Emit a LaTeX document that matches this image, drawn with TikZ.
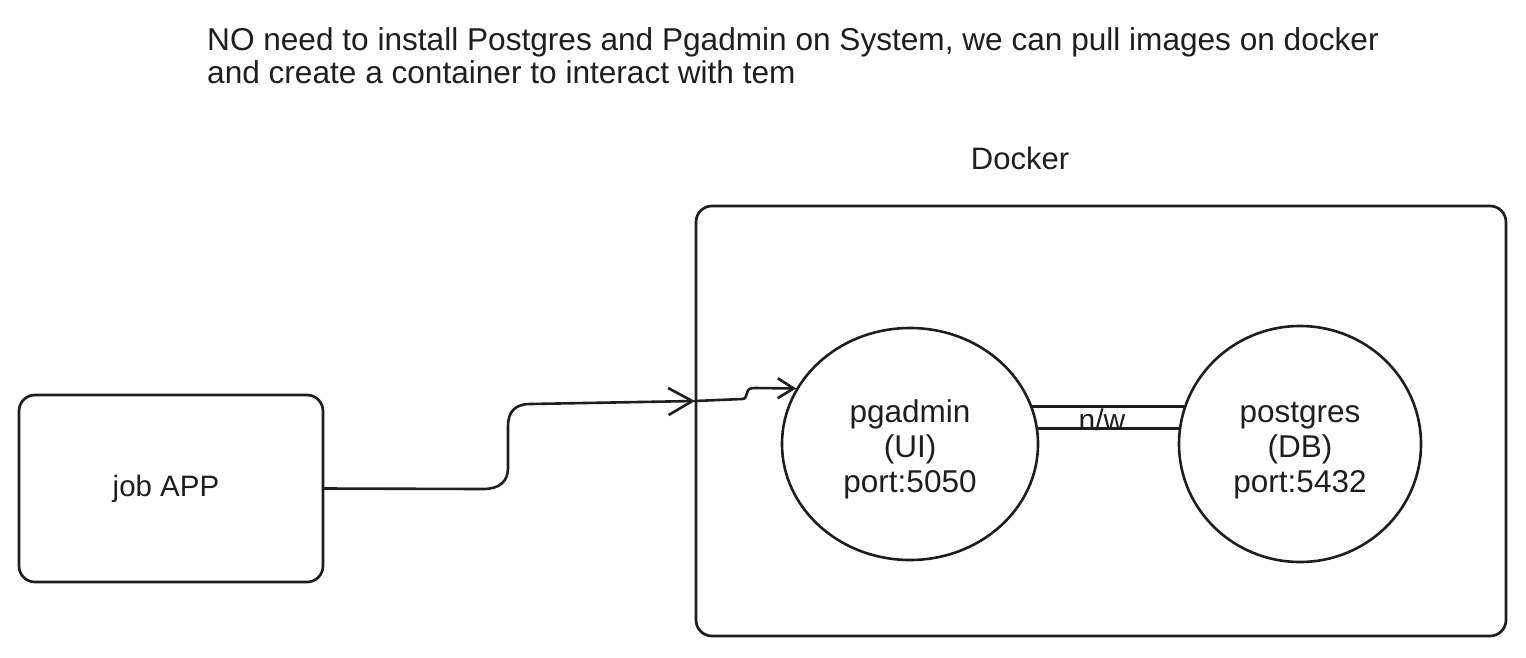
\documentclass[tikz,border=0pt]{standalone}
\usepackage{fontspec}
\setmainfont{Liberation Sans}
\usetikzlibrary{arrows.meta,shapes.geometric,calc}
\definecolor{ink}{HTML}{1E1E1E}
\begin{document}
\begin{tikzpicture}[x=1pt,y=-1pt, line join=round, line cap=round,
  box/.style={draw=ink, line width=2.7pt, rounded corners=16pt, inner sep=0pt, text=ink},
  blob/.style={draw=ink, ellipse, line width=2.6pt, inner sep=0pt, align=center, text=ink, font=\fontsize{31.5}{35}\selectfont},
  conn/.style={draw=ink, line width=2.6pt},
  lbl/.style={font=\fontsize{31.6}{33}\selectfont, inner sep=0pt, text=ink}]
\path[use as bounding box, fill=white] (0,0) rectangle (1526,657);
\node[lbl, anchor=north west, align=left] (title) at (207,27.5) {NO need to install Postgres and Pgadmin on System, we can pull images on docker\\and create a container to interact with tem};
\node[lbl, font=\fontsize{31}{33}\selectfont] (dockerlbl) at (1020,158) {Docker};
\node[box, minimum width=810pt, minimum height=430pt] (docker) at (1101,421) {};
\node[box, minimum width=304pt, minimum height=187pt, font=\fontsize{29.5}{33}\selectfont] (jobapp) at (171,488.5) {\hspace*{-10pt}job APP};
\node[blob, minimum width=256pt, minimum height=232pt] (pgadmin) at (910,444) {\rule{0pt}{33pt}pgadmin\\(UI)\\port:5050};
\node[blob, minimum width=242pt, minimum height=236pt] (postgres) at (1300,444) {\rule{0pt}{33pt}postgres\\(DB)\\port:5432};
% n/w link
\draw[conn] (pgadmin.17) -- (pgadmin.17 -| postgres.162);
\draw[conn] (pgadmin.7) -- (pgadmin.7 -| postgres.173);
\node[lbl, font=\fontsize{30}{33}\selectfont, anchor=base] (nw) at (1102,430) {n/w};
% arrows
\coordinate (dockin) at (695,401);
\draw[conn, -{Straight Barb[length=24pt,width=27pt]}] (jobapp.east) -- (483,489)
  .. controls (500,489) and (508,481) .. (508,468) -- (508,426)
  .. controls (508,412) and (515,404) .. (530,404) -- (dockin);
\draw[conn, -{Straight Barb[length=16pt,width=20pt]}] (dockin) -- (742,399)
  .. controls (746,399) and (746,396) .. (747,393)
  .. controls (748,389) and (750,388) .. (755,388) -- (pgadmin.154);
\end{tikzpicture}
\end{document}
